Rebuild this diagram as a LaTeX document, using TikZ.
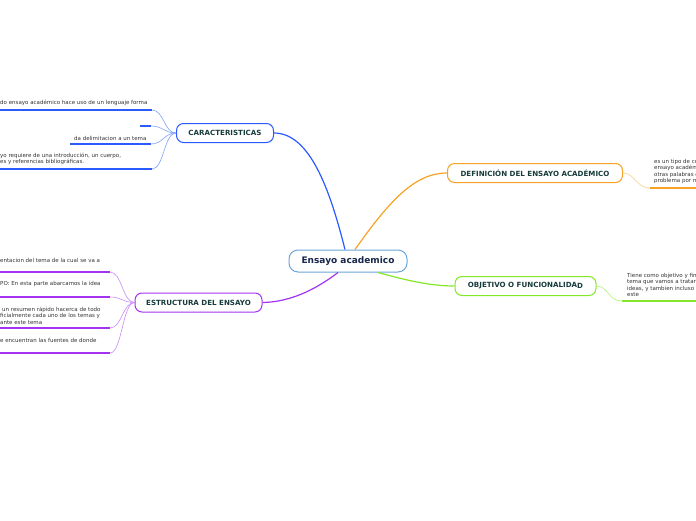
\documentclass[tikz,border=0pt]{standalone}
\usepackage{fontspec}
\setmainfont{DejaVu Sans}
\definecolor{cblue}{HTML}{2B5BFF}
\definecolor{cbluel}{HTML}{7FA0FF}
\definecolor{corange}{HTML}{F5A225}
\definecolor{corangel}{HTML}{FAD18C}
\definecolor{cgreen}{HTML}{84E82A}
\definecolor{cgreenl}{HTML}{B5F07A}
\definecolor{cpurple}{HTML}{A333F0}
\definecolor{cpurplel}{HTML}{C98AF5}
\definecolor{ccentral}{HTML}{6AA6DA}
\definecolor{labelc}{HTML}{173B3B}
\definecolor{centralt}{HTML}{17264A}
\begin{document}
\begin{tikzpicture}[x=1pt,y=-1pt,
  topic/.style={draw, rounded corners=7pt, fill=white, line width=1pt,
    font=\bfseries\fontsize{7.1}{8}\selectfont, text=labelc,
    minimum height=19pt, inner sep=0pt},
  central/.style={draw=ccentral, rounded corners=9pt, fill=white, line width=1pt,
    font=\bfseries\fontsize{9}{10}\selectfont, text=centralt,
    minimum height=22pt, minimum width=118pt, inner sep=0pt},
  leaf/.style={font=\fontsize{5.5}{6.6}\selectfont, text=black!80, align=left,
    inner sep=0pt, anchor=west},
  uline/.style={line width=1.6pt},
  conn/.style={line width=1.2pt},
  sub/.style={line width=0.6pt}]
\useasboundingbox (0,0) rectangle (696,520);
\clip (0,0) rectangle (696,520);

% central
\node[central] (c) at (348,261) {Ensayo academico};

% topics
\node[topic, draw=cblue, minimum width=97pt] (car) at (225,133) {CARACTERISTICAS};
\node[topic, draw=corange, minimum width=175pt] (def) at (535,173) {DEFINICIÓN DEL ENSAYO ACADÉMICO};
\node[topic, draw=cgreen, minimum width=141pt] (obj) at (525.5,286) {OBJETIVO O FUNCIONALIDA\raisebox{-1pt}{D}};
\node[topic, draw=cpurple, minimum width=127pt] (est) at (198.5,302.5) {ESTRUCTURA DEL ENSAYO};

% main connectors
\draw[conn, cblue] ([xshift=-3pt]c.north) .. controls (330,190) and (310,133) .. (car.east);
\draw[conn, corange] ([xshift=7pt]c.north) .. controls (390,200) and (415,173) .. (def.west);
\draw[conn, cgreen] ([xshift=30pt]c.south) .. controls (405,280) and (430,286) .. (obj.west);
\draw[conn, cpurple] ([xshift=-10pt]c.south) .. controls (315,290) and (290,302) .. (est.east);

% CARACTERISTICAS leaves
\coordinate (ca1) at (152,110);
\coordinate (ca1s) at (0,110);
\coordinate (ca2) at (151,126);
\coordinate (ca2s) at (140,126);
\coordinate (ca3) at (151,144);
\coordinate (ca3s) at (70,144);
\coordinate (ca4) at (152,169);
\coordinate (ca4s) at (0,169);
\node[leaf] (cl1) at (0,103) {do ensayo académico hace uso de un lenguaje forma};
\node[leaf] (cl3) at (74,138) {da delimitacion a un tema};
\node[leaf] (cl4) at (0,159) {yo requiere de una introducción, un cuerpo,\\es y referencias bibliográficas.};
\foreach \a/\b in {ca1/ca1s,ca2/ca2s,ca3/ca3s,ca4/ca4s}{
  \draw[uline, cblue] (\b) -- (\a);
}
\foreach \a in {ca1,ca2,ca3,ca4}{
  \draw[sub, cbluel] (car.west) .. controls ([xshift=-12pt]car.west) and ([xshift=12pt]\a) .. (\a);
}

% ESTRUCTURA leaves
\coordinate (es1) at (110,272);
\coordinate (es1s) at (0,272);
\coordinate (es2) at (110,297);
\coordinate (es2s) at (0,297);
\coordinate (es3) at (110,328);
\coordinate (es3s) at (0,328);
\coordinate (es4) at (110,353);
\coordinate (es4s) at (0,353);
\node[leaf] (el1) at (0,260) {entacion del tema de la cual se va a};
\node[leaf] (el2) at (0,284) {PO: En esta parte abarcamos la idea};
\node[leaf] (el3) at (0,315.5) {\hspace{2pt}un resumen rápido hacerca de todo\\ficialmente cada uno de los temas y\\ante este tema};
\node[leaf] (el4) at (0,340) {e encuentran las fuentes de donde};
\foreach \a/\b in {es1/es1s,es2/es2s,es3/es3s,es4/es4s}{
  \draw[uline, cpurple] (\b) -- (\a);
}
\foreach \a in {es1,es2,es3,es4}{
  \draw[sub, cpurplel] (est.west) .. controls ([xshift=-12pt]est.west) and ([xshift=12pt]\a) .. (\a);
}

% DEFINICION leaf
\coordinate (d1) at (650,188);
\coordinate (d1e) at (696,188);
\node[leaf] (dl) at (654,171.5) {es un tipo de co\\ensayo académ\\otras palabras e\\problema por m};
\draw[uline, corange] (d1) -- (d1e);
\draw[sub, corangel] (def.east) .. controls ([xshift=12pt]def.east) and ([xshift=-14pt]d1) .. (d1);

% OBJETIVO leaf
\coordinate (o1) at (622,301);
\coordinate (o1e) at (696,301);
\node[leaf] (ol) at (627,285) {Tiene como objetivo y fin\\tema que vamos a tratar\\ideas, y tambien incluso ;\\este};
\draw[uline, cgreen] (o1) -- (o1e);
\draw[sub, cgreenl] (obj.east) .. controls ([xshift=12pt]obj.east) and ([xshift=-14pt]o1) .. (o1);
\end{tikzpicture}
\end{document}
